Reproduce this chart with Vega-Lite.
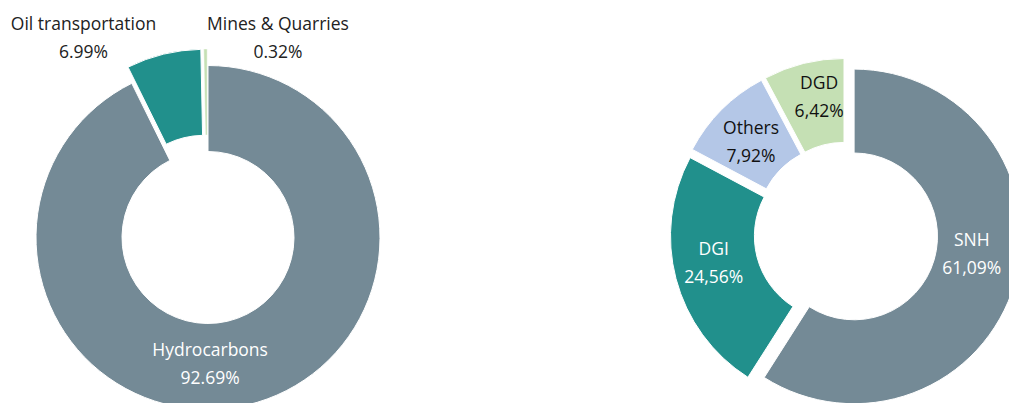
{
  "$schema": "https://vega.github.io/schema/vega-lite/v6.json",
  "background": "white",
  "padding": 5,
  "spacing": 232,
  "config": {"view": {"stroke": null}, "font": "Open Sans"},
  "datasets": {
    "left": [
      {"category": "Hydrocarbons", "value": 92.69, "label": ["Hydrocarbons", "92.69%"]},
      {"category": "Oil transportation", "value": 6.99, "label": ["Oil transportation", "6.99%"]},
      {"category": "Mines & Quarries", "value": 0.32, "label": ["Mines & Quarries", "0.32%"]}
    ],
    "right": [
      {"category": "SNH", "value": 59.03, "label": ["SNH", "61,09%"]},
      {"category": "DGI", "value": 23.75, "label": ["DGI", "24,56%"]},
      {"category": "Others", "value": 9.44, "label": ["Others", "7,92%"]},
      {"category": "DGD", "value": 7.78, "label": ["DGD", "6,42%"]}
    ]
  },
  "hconcat": [
    {
      "width": 406,
      "height": 465,
      "data": {"name": "left"},
      "transform": [{"stack": "value", "groupby": [], "sort": [{"field": "value", "order": "descending"}], "as": ["v0", "v1"]}],
      "layer": [
        {
          "transform": [{"filter": "datum.category === 'Hydrocarbons'"}],
          "mark": {"type": "arc", "radius": 172, "radius2": 86, "stroke": "#ffffff", "strokeWidth": 1},
          "encoding": {
            "theta": {"field": "v0", "type": "quantitative", "scale": {"domain": [0, 100]}},
            "theta2": {"field": "v1"},
            "color": {"field": "category", "type": "nominal", "legend": null, "scale": {"domain": ["Hydrocarbons", "Oil transportation", "Mines & Quarries", "SNH", "DGI", "Others", "DGD"], "range": ["#748a96", "#21908c", "#c5e0b4", "#748a96", "#21908c", "#b4c7e7", "#c5e0b4"]}}
          }
        },
        {
          "transform": [{"filter": "datum.category === 'Oil transportation'"}],
          "mark": {"type": "arc", "radius": 172, "radius2": 86, "stroke": "#ffffff", "strokeWidth": 1, "xOffset": -3.7, "yOffset": -16.2},
          "encoding": {
            "theta": {"field": "v0", "type": "quantitative", "scale": {"domain": [0, 100]}},
            "theta2": {"field": "v1"},
            "color": {"field": "category", "type": "nominal", "legend": null, "scale": {"domain": ["Hydrocarbons", "Oil transportation", "Mines & Quarries", "SNH", "DGI", "Others", "DGD"], "range": ["#748a96", "#21908c", "#c5e0b4", "#748a96", "#21908c", "#b4c7e7", "#c5e0b4"]}}
          }
        },
        {
          "transform": [{"filter": "datum.category === 'Mines & Quarries'"}],
          "mark": {"type": "arc", "radius": 172, "radius2": 86, "stroke": "#ffffff", "strokeWidth": 0.5, "xOffset": -0.8, "yOffset": -16.5},
          "encoding": {
            "theta": {"field": "v0", "type": "quantitative", "scale": {"domain": [0, 100]}},
            "theta2": {"field": "v1"},
            "color": {"field": "category", "type": "nominal", "legend": null, "scale": {"domain": ["Hydrocarbons", "Oil transportation", "Mines & Quarries", "SNH", "DGI", "Others", "DGD"], "range": ["#748a96", "#21908c", "#c5e0b4", "#748a96", "#21908c", "#b4c7e7", "#c5e0b4"]}}
          }
        },
        {
          "mark": {"type": "text", "radius": 128, "dx": -27, "dy": -11, "lineHeight": 28, "fontSize": 17.5, "color": "#ffffff", "align": "center", "baseline": "middle"},
          "encoding": {
            "theta": {"field": "value", "type": "quantitative", "stack": true, "scale": {"domain": [0, 100]}},
            "order": {"field": "value", "type": "quantitative", "sort": "descending"},
            "detail": {"field": "category", "type": "nominal"},
            "text": {"condition": {"test": "datum.category === 'Hydrocarbons'", "field": "label", "type": "nominal"}, "value": ""}
          }
        },
        {
          "mark": {"type": "text", "radius": 200, "dx": -77, "dy": -18, "lineHeight": 28, "fontSize": 17.5, "color": "#222222", "align": "center", "baseline": "middle"},
          "encoding": {
            "theta": {"field": "value", "type": "quantitative", "stack": true, "scale": {"domain": [0, 100]}},
            "order": {"field": "value", "type": "quantitative", "sort": "descending"},
            "detail": {"field": "category", "type": "nominal"},
            "text": {"condition": {"test": "datum.category === 'Oil transportation'", "field": "label", "type": "nominal"}, "value": ""}
          }
        },
        {
          "mark": {"type": "text", "radius": 199, "dx": 72, "dy": -14, "lineHeight": 28, "fontSize": 17.5, "color": "#222222", "align": "center", "baseline": "middle"},
          "encoding": {
            "theta": {"field": "value", "type": "quantitative", "stack": true, "scale": {"domain": [0, 100]}},
            "order": {"field": "value", "type": "quantitative", "sort": "descending"},
            "detail": {"field": "category", "type": "nominal"},
            "text": {"condition": {"test": "datum.category === 'Mines & Quarries'", "field": "label", "type": "nominal"}, "value": ""}
          }
        }
      ]
    },
    {
      "width": 406,
      "height": 458,
      "data": {"name": "right"},
      "transform": [{"stack": "value", "groupby": [], "sort": [{"field": "value", "order": "descending"}], "as": ["v0", "v1"]}],
      "layer": [
        {
          "transform": [{"filter": "datum.category === 'SNH'"}],
          "mark": {"type": "arc", "radius": 167.3, "radius2": 83.4, "stroke": "#ffffff", "strokeWidth": 1, "xOffset": 8.1, "yOffset": 2.4},
          "encoding": {
            "theta": {"field": "v0", "type": "quantitative", "scale": {"domain": [0, 100]}},
            "theta2": {"field": "v1"},
            "color": {"field": "category", "type": "nominal", "legend": null, "scale": {"domain": ["Hydrocarbons", "Oil transportation", "Mines & Quarries", "SNH", "DGI", "Others", "DGD"], "range": ["#748a96", "#21908c", "#c5e0b4", "#748a96", "#21908c", "#b4c7e7", "#c5e0b4"]}}
          }
        },
        {
          "transform": [{"filter": "datum.category === 'DGI'"}],
          "mark": {"type": "arc", "radius": 167.3, "radius2": 83.4, "stroke": "#ffffff", "strokeWidth": 1, "xOffset": -8.2, "yOffset": 2.2},
          "encoding": {
            "theta": {"field": "v0", "type": "quantitative", "scale": {"domain": [0, 100]}},
            "theta2": {"field": "v1"},
            "color": {"field": "category", "type": "nominal", "legend": null, "scale": {"domain": ["Hydrocarbons", "Oil transportation", "Mines & Quarries", "SNH", "DGI", "Others", "DGD"], "range": ["#748a96", "#21908c", "#c5e0b4", "#748a96", "#21908c", "#b4c7e7", "#c5e0b4"]}}
          }
        },
        {
          "transform": [{"filter": "datum.category === 'Others'"}],
          "mark": {"type": "arc", "radius": 167.3, "radius2": 83.4, "stroke": "#ffffff", "strokeWidth": 1, "xOffset": -6, "yOffset": -6},
          "encoding": {
            "theta": {"field": "v0", "type": "quantitative", "scale": {"domain": [0, 100]}},
            "theta2": {"field": "v1"},
            "color": {"field": "category", "type": "nominal", "legend": null, "scale": {"domain": ["Hydrocarbons", "Oil transportation", "Mines & Quarries", "SNH", "DGI", "Others", "DGD"], "range": ["#748a96", "#21908c", "#c5e0b4", "#748a96", "#21908c", "#b4c7e7", "#c5e0b4"]}}
          }
        },
        {
          "transform": [{"filter": "datum.category === 'DGD'"}],
          "mark": {"type": "arc", "radius": 167.3, "radius2": 83.4, "stroke": "#ffffff", "strokeWidth": 1, "xOffset": -2, "yOffset": -8.2},
          "encoding": {
            "theta": {"field": "v0", "type": "quantitative", "scale": {"domain": [0, 100]}},
            "theta2": {"field": "v1"},
            "color": {"field": "category", "type": "nominal", "legend": null, "scale": {"domain": ["Hydrocarbons", "Oil transportation", "Mines & Quarries", "SNH", "DGI", "Others", "DGD"], "range": ["#748a96", "#21908c", "#c5e0b4", "#748a96", "#21908c", "#b4c7e7", "#c5e0b4"]}}
          }
        },
        {
          "mark": {"type": "text", "radius": 130, "dx": 1, "dy": -29, "lineHeight": 28, "fontSize": 17.5, "color": "#ffffff", "align": "center", "baseline": "middle"},
          "encoding": {
            "theta": {"field": "value", "type": "quantitative", "stack": true, "scale": {"domain": [0, 100]}},
            "order": {"field": "value", "type": "quantitative", "sort": "descending"},
            "detail": {"field": "category", "type": "nominal"},
            "text": {"condition": {"test": "datum.category === 'SNH'", "field": "label", "type": "nominal"}, "value": ""}
          }
        },
        {
          "mark": {"type": "text", "radius": 130, "dx": -6.5, "dy": -17, "lineHeight": 28, "fontSize": 17.5, "color": "#ffffff", "align": "center", "baseline": "middle"},
          "encoding": {
            "theta": {"field": "value", "type": "quantitative", "stack": true, "scale": {"domain": [0, 100]}},
            "order": {"field": "value", "type": "quantitative", "sort": "descending"},
            "detail": {"field": "category", "type": "nominal"},
            "text": {"condition": {"test": "datum.category === 'DGI'", "field": "label", "type": "nominal"}, "value": ""}
          }
        },
        {
          "mark": {"type": "text", "radius": 130, "dx": -3, "dy": -13, "lineHeight": 28, "fontSize": 17.5, "color": "#111111", "align": "center", "baseline": "middle"},
          "encoding": {
            "theta": {"field": "value", "type": "quantitative", "stack": true, "scale": {"domain": [0, 100]}},
            "order": {"field": "value", "type": "quantitative", "sort": "descending"},
            "detail": {"field": "category", "type": "nominal"},
            "text": {"condition": {"test": "datum.category === 'Others'", "field": "label", "type": "nominal"}, "value": ""}
          }
        },
        {
          "mark": {"type": "text", "radius": 140, "dx": 7, "dy": -14, "lineHeight": 28, "fontSize": 17.5, "color": "#111111", "align": "center", "baseline": "middle"},
          "encoding": {
            "theta": {"field": "value", "type": "quantitative", "stack": true, "scale": {"domain": [0, 100]}},
            "order": {"field": "value", "type": "quantitative", "sort": "descending"},
            "detail": {"field": "category", "type": "nominal"},
            "text": {"condition": {"test": "datum.category === 'DGD'", "field": "label", "type": "nominal"}, "value": ""}
          }
        }
      ]
    }
  ]
}
